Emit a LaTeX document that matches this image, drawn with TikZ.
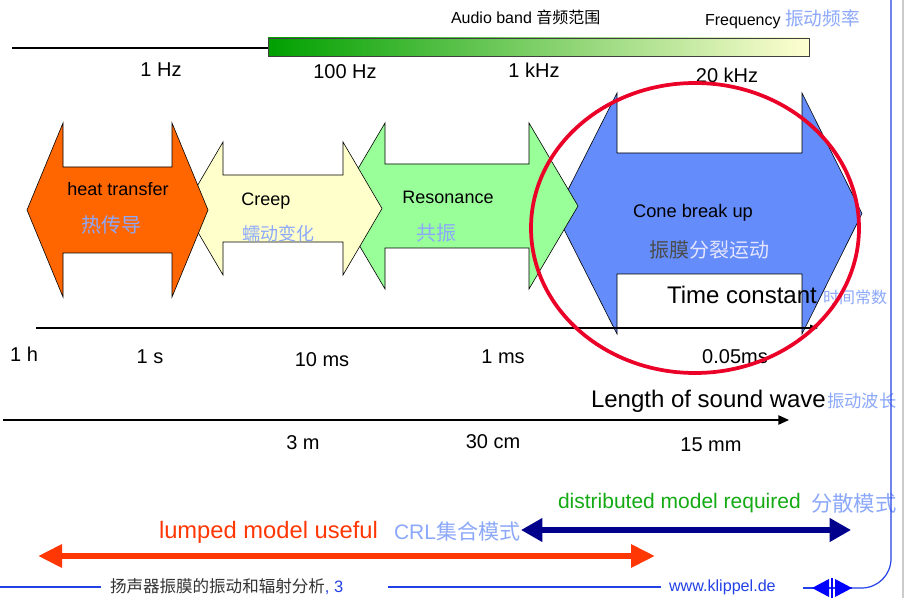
\documentclass[tikz,border=0pt]{standalone}
\usepackage{fontspec}
\setmainfont{Liberation Sans}
\newfontfamily\cjk{Noto Sans CJK SC}
\usetikzlibrary{arrows.meta}
\definecolor{orangeF}{RGB}{255,102,0}
\definecolor{yellowF}{RGB}{255,255,204}
\definecolor{greenF}{RGB}{153,255,153}
\definecolor{blueF}{RGB}{100,140,250}
\definecolor{lblue}{RGB}{140,168,250}
\definecolor{redE}{RGB}{235,0,40}
\definecolor{lumpred}{RGB}{255,55,5}
\definecolor{distgreen}{RGB}{20,170,20}
\definecolor{darkblue}{RGB}{0,0,140}
\definecolor{footblue}{RGB}{35,65,230}
\definecolor{gradgreen}{RGB}{0,160,0}
\definecolor{gradyellow}{RGB}{255,255,210}
\newcommand\dblarrow[8]{%
  \filldraw[fill=#1,shapeline] (#2,#6) -- (#3,{#6-#7}) -- (#3,{#6-#8}) -- (#4,{#6-#8}) -- (#4,{#6-#7})
    -- (#5,#6) -- (#4,{#6+#7}) -- (#4,{#6+#8}) -- (#3,{#6+#8}) -- (#3,{#6+#7}) -- cycle;}
\begin{document}
\begin{tikzpicture}[x=0.75pt,y=-0.75pt,
  lbl/.style={inner sep=0pt,outer sep=0pt},
  fs/.style={font=\fontsize{#1}{#1}\selectfont},
  shapeline/.style={draw=black,line width=0.45pt,line join=miter},
  axisline/.style={line width=1pt,black},
  footline/.style={draw=footblue,line width=0.9pt}]
\useasboundingbox (0,0) rectangle (905,598);
\fill[white] (0,0) rectangle (905,598);

% ---- frequency scale
\coordinate (fl0) at (12,48);
\coordinate (fl1) at (268,48);
\draw[line width=0.8pt] (fl0) -- (fl1);
\shade[left color=gradgreen,right color=gradyellow] (268,38) rectangle (809,56);
\draw[line width=0.6pt,black!75] (268,38) rectangle (809,56);
\node[lbl,fs=12,anchor=west] (audio) at (451,17) {Audio band {\cjk 音频范围}};
\node[lbl,fs=12,anchor=west] (freq) at (705,19) {Frequency {\cjk\color{lblue}\fontsize{14}{14}\selectfont 振动频率}};
\node[lbl,fs=15] (f1) at (161,70) {1 Hz};
\node[lbl,fs=15] (f2) at (345,72) {100 Hz};
\node[lbl,fs=15] (f3) at (534,70) {1 kHz};
\node[lbl,fs=15] (f4) at (727,75) {20 kHz};

% ---- block arrows (right to left so that the left ones lie on top)
\dblarrow{blueF}{556}{617}{802}{862}{213.5}{120.5}{60.5}
\dblarrow{greenF}{336}{385}{529}{578}{206}{83}{42}
\dblarrow{yellowF}{184}{223}{343}{382}{208.5}{66.5}{33.5}
\dblarrow{orangeF}{27}{63}{172}{208}{210}{87}{43}

\node[lbl,fs=13.5] (heat) at (118,189) {heat transfer};
\node[lbl,font=\cjk\fontsize{15}{15}\selectfont,text=lblue] (heatc) at (111,225) {热传导};
\node[lbl,fs=13.5] (creep) at (266,201) {Creep};
\node[lbl,font=\cjk\fontsize{13.5}{13.5}\selectfont,text=lblue] (creepc) at (278,234) {蠕动变化};
\node[lbl,fs=13.5] (reso) at (448,197) {Resonance};
\node[lbl,font=\cjk\fontsize{15}{15}\selectfont,text=lblue] (resoc) at (436,233) {共振};
\node[lbl,fs=13.7] (cone) at (693,213) {Cone break up};
\node[lbl,font=\cjk\fontsize{15}{15}\selectfont] (conec) at (709,250) {\color{black!70}振膜\color{white!90!blue}分裂运动};

% ---- time axis
\coordinate (t0) at (36,328);
\coordinate (t1) at (818,328);
\draw[axisline,-{Triangle[length=6pt,width=5pt]}] (t0) -- (t1);
\node[lbl,fs=18,anchor=west] (tc) at (667,295) {Time constant};
\node[lbl,font=\cjk\fontsize{12}{12}\selectfont,text=lblue,anchor=west] (tcc) at (823,297) {时间常数};
\node[lbl,fs=15] (tl1) at (24,354) {1 h};
\node[lbl,fs=15] (tl2) at (150,357) {1 s};
\node[lbl,fs=15] (tl3) at (322,360) {10 ms};
\node[lbl,fs=15] (tl4) at (503,357) {1 ms};
\node[lbl,fs=15] (tl5) at (735,357) {0.05ms};

% ---- red ellipse
\draw[redE,line width=2.8pt] (695,228) ellipse [x radius=164, y radius=145];

% ---- sound wave axis
\coordinate (w0) at (3,420);
\coordinate (w1) at (789,420);
\draw[axisline,line width=1.1pt,-{Triangle[length=8pt,width=7pt]}] (w0) -- (w1);
\node[lbl,fs=18,anchor=west] (lsw) at (591,401) {Length of sound wave};
\node[lbl,font=\cjk\fontsize{13}{13}\selectfont,text=lblue,anchor=west] (lswc) at (827,401) {振动波长};
\node[lbl,fs=15] (d1) at (303,443) {3 m};
\node[lbl,fs=15] (d2) at (493,442) {30 cm};
\node[lbl,fs=15] (d3) at (711,445) {15 mm};

% ---- model ranges
\node[lbl,fs=15.75,text=distgreen,anchor=west] (dist) at (558,503) {distributed model required};
\node[lbl,font=\cjk\fontsize{16}{16}\selectfont,text=lblue,anchor=west] (distc) at (811,503) {分散模式};
\coordinate (db0) at (521,530);
\coordinate (db1) at (851,530);
\draw[darkblue,line width=3.8pt,{Triangle[length=16pt,width=17pt]}-{Triangle[length=16pt,width=17pt]}] (db0) -- (db1);
\node[lbl,fs=17.8,text=lumpred,anchor=west] (lump) at (159,532) {lumped model useful};
\node[lbl,fs=15.75,text=lblue,anchor=west] (crl) at (394,532) {CRL{\cjk 集合模式}};
\coordinate (lr0) at (38,556);
\coordinate (lr1) at (655,556);
\draw[lumpred,line width=5.2pt,{Triangle[length=18pt,width=16.5pt]}-{Triangle[length=18pt,width=16.5pt]}] (lr0) -- (lr1);

% ---- footer and frame
\draw[black!20,line width=0.8pt] (903,0) -- (903,598);
\coordinate (fr0) at (891,0);
\coordinate (fr1) at (891,588);
\coordinate (fr2) at (852,588);
\draw[footline,rounded corners=22pt] (fr0) -- (fr1) -- (fr2);
\draw[footline] (0,587) -- (101,587);
\draw[footline] (388,587) -- (661,587);
\draw[footline] (803,588) -- (852,588);
\fill[blue] (812,588) -- (829,579) -- (829,597) -- cycle;
\fill[blue] (852,588) -- (835,579) -- (835,597) -- cycle;
\draw[blue,line width=0.8pt] (832,578) -- (832,598);
\node[lbl,anchor=west,font=\cjk\fontsize{12.4}{12.4}\selectfont,text=black!80] (foot) at (110,587) {扬声器振膜的振动和辐射分析{\color{footblue}\fontspec{Liberation Sans}, 3}};
\node[lbl,fs=12.1,text=footblue,anchor=west] (www) at (669,587) {www.klippel.de};
\end{tikzpicture}
\end{document}
